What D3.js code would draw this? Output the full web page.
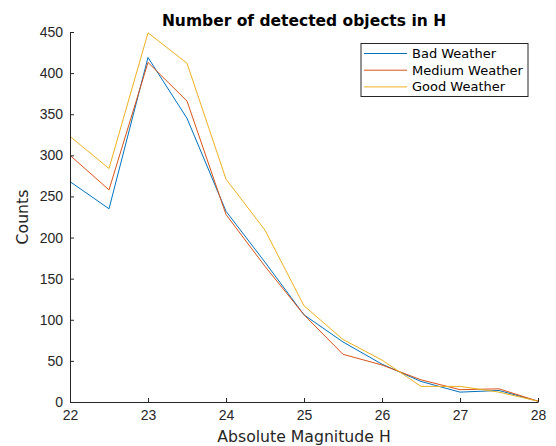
<!DOCTYPE html>
<html>
<head>
<meta charset="utf-8">
<script src="https://cdn.jsdelivr.net/npm/d3@7"></script>
<style>
	body { margin: 0; background: #fff; }
	svg { font-family: "DejaVu Sans", sans-serif; }
	.axis path, .axis line { stroke: #262626; }
	.axis text { fill: #262626; font-size: 14px; }
</style>
</head>
<body>
<div id="graphic"></div>
<script>
// Data
const magnitudes = [22, 22.5, 23, 23.5, 24, 24.5, 25, 25.5, 26, 26.5, 27, 27.5, 28];
const badWeather = [268, 235, 419, 345, 232, 170, 106, 73, 46, 25, 12, 14, 1];
const mediumWeather = [300, 258, 413, 366, 228, 165, 106, 58, 45, 27, 15, 16, 1];
const goodWeather = [323, 284, 449, 412, 271, 209, 117, 76, 51, 19, 19, 12, 1];
const seriesNames = ['Bad Weather', 'Medium Weather', 'Good Weather'];
const xTicks = [22, 23, 24, 25, 26, 27, 28];
const yTicks = [0, 50, 100, 150, 200, 250, 300, 350, 400, 450];

const colours = ['#0072BD', '#D95319', '#EDB120'];
const width = 556, height = 446;
const margin = { top: 32, right: 18, bottom: 44, left: 70 };

const svg = d3.select('#graphic')
	.append('svg')
	.attr('width', width)
	.attr('height', height);

const x = d3.scaleLinear()
	.domain([22, 28])
	.range([margin.left, width - margin.right]);

const y = d3.scaleLinear()
	.domain([0, 450])
	.range([height - margin.bottom, margin.top]);

const allSeries = [badWeather, mediumWeather, goodWeather];

const line = d3.line()
	.x((d, i) => x(magnitudes[i]))
	.y(d => y(d));

allSeries.forEach(function (values, i) {
	svg.append('path')
		.datum(values)
		.attr('fill', 'none')
		.attr('stroke', colours[i])
		.attr('stroke-width', 1)
		.attr('stroke-linejoin', 'round')
		.attr('d', line);
});

// axes, ticks point inward like matlab
svg.append('g')
	.attr('class', 'x axis')
	.attr('transform', `translate(0, ${y(0)})`)
	.call(d3.axisBottom(x)
		.tickValues(xTicks)
		.tickSizeInner(-4)
		.tickSizeOuter(0)
		.tickPadding(8)
		.tickFormat(d3.format('d')));

svg.append('g')
	.attr('class', 'y axis')
	.attr('transform', `translate(${x(22)}, 0)`)
	.call(d3.axisLeft(y)
		.tickValues(yTicks)
		.tickSizeInner(-4)
		.tickSizeOuter(0)
		.tickPadding(7)
		.tickFormat(d3.format('d')));

svg.selectAll('.axis .domain').attr('stroke-width', 1);

// title
svg.append('text')
	.attr('x', (x(22) + x(28)) / 2)
	.attr('y', 26)
	.attr('text-anchor', 'middle')
	.attr('font-size', '15.5px')
	.attr('font-weight', 'bold')
	.attr('fill', '#000')
	.text('Number of detected objects in H');

// axis labels
svg.append('text')
	.attr('x', (x(22) + x(28)) / 2)
	.attr('y', 442)
	.attr('text-anchor', 'middle')
	.attr('font-size', '15.7px')
	.attr('fill', '#262626')
	.text('Absolute Magnitude H');

svg.append('text')
	.attr('transform', `translate(28, ${(y(0) + y(450)) / 2}) rotate(-90)`)
	.attr('text-anchor', 'middle')
	.attr('font-size', '15.7px')
	.attr('fill', '#262626')
	.text('Counts');

// legend
const legend = svg.append('g')
	.attr('transform', 'translate(361, 43.5)');

legend.append('rect')
	.attr('width', 167)
	.attr('height', 53)
	.attr('fill', '#fff')
	.attr('stroke', '#262626')
	.attr('stroke-width', 1);

seriesNames.forEach(function (name, i) {
	const rowY = 10 + i * 16.7;
	legend.append('line')
		.attr('x1', 3)
		.attr('x2', 46)
		.attr('y1', rowY)
		.attr('y2', rowY)
		.attr('stroke', colours[i])
		.attr('stroke-width', 1);
	legend.append('text')
		.attr('x', 51)
		.attr('y', rowY)
		.attr('dy', '0.35em')
		.attr('font-size', '13px')
		.attr('fill', '#000')
		.text(name);
});
</script>
</body>
</html>
